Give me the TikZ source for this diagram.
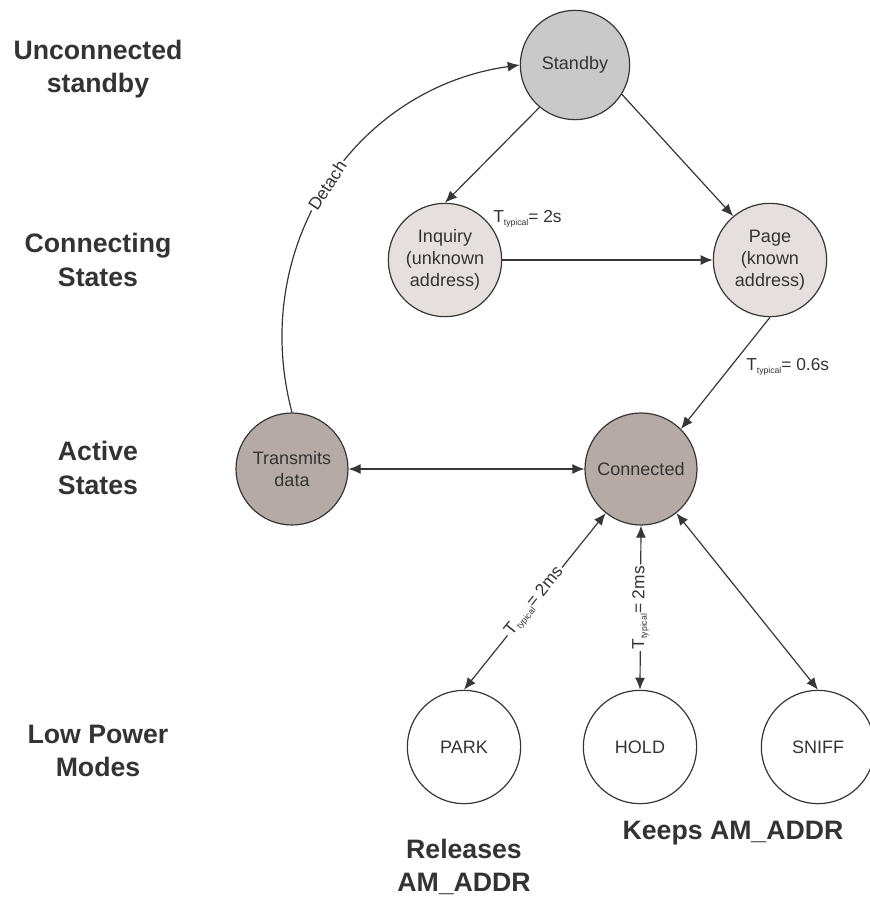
\documentclass[tikz,border=0pt]{standalone}
\usepackage{fontspec}
\setmainfont{Liberation Sans}
\usetikzlibrary{arrows.meta}
\definecolor{ln}{HTML}{363636}
\definecolor{txt}{HTML}{333333}
\definecolor{fstand}{HTML}{C9C9C9}
\definecolor{fconn}{HTML}{E5E0DD}
\definecolor{factive}{HTML}{B5AAA6}
\newcommand{\Ttyp}{T\raisebox{-0.3ex}{\fontsize{6.5}{7}\selectfont typical}}
\begin{document}
\begin{tikzpicture}[x=0.75pt,y=-0.75pt,
  state/.style={circle, draw=ln, line width=0.9pt, minimum size=84pt, inner sep=0pt,
    align=center, text=txt, font=\fontsize{13.5}{16.5}\selectfont},
  lvl/.style={align=center, text=txt, font=\fontsize{20}{25}\selectfont\bfseries},
  conn/.style={draw=ln, line width=0.9pt, -{Latex[length=9pt,width=7.5pt]}},
  both/.style={draw=ln, line width=0.9pt, {Latex[length=9pt,width=7.5pt]}-{Latex[length=9pt,width=7.5pt]}},
  tlab/.style={text=txt, font=\fontsize{13}{15}\selectfont, inner sep=1.5pt}
]
\useasboundingbox (0,0) rectangle (870,897);

% states
\node[state, fill=fstand, minimum size=82pt] (s) at (575,65) {Standby};
\node[state, fill=fconn, minimum size=85pt] (inq) at (445,260) {Inquiry\\(unknown\\address)};
\node[state, fill=fconn, minimum size=85pt] (pg) at (770,260) {Page\\(known\\address)};
\node[state, fill=factive] (t) at (292,469) {Transmits\\data};
\node[state, fill=factive] (con) at (641,469) {Connected};
\node[state, fill=white, minimum size=85pt] (park) at (464,747) {PARK};
\node[state, fill=white, minimum size=85pt] (hold) at (640,747) {HOLD};
\node[state, fill=white, minimum size=85pt] (sniff) at (818,747) {SNIFF};

% level labels
\node[lvl] (l1) at (98,69) {Unconnected\\standby};
\node[lvl] (l2) at (98,260) {Connecting\\States};
\node[lvl] (l3) at (98,468) {Active\\States};
\node[lvl] (l4) at (98,751) {Low Power\\Modes};
\node[lvl] (rel) at (464,867) {Releases\\AM\_ADDR};
\node[lvl] (keep) at (733,833) {Keeps AM\_ADDR};

% connectors
\draw[conn] (s.230) -- (inq.north);
\draw[conn] (s.-32) -- (pg.130);
\draw[conn] (inq) -- (pg);
\draw[conn] (pg.south) -- (con.45);
\draw[both] (t) -- (con);
\draw[conn] (t.north) .. controls (248,247) and (354,88) ..
  node[sloped, fill=white, tlab, pos=0.5] {Detach} (s.west);
\draw[both] (park.north) -- node[sloped, fill=white, tlab, pos=0.5] {\Ttyp= 2ms} (con);
\draw[both] (hold.north) -- node[sloped, fill=white, tlab, pos=0.5] {\Ttyp= 2ms} (con.south);
\draw[both] (sniff.north) -- (con);

% timing labels
\node[tlab, anchor=west] (t1) at (491,219) {\Ttyp= 2s};
\node[tlab, anchor=west] (t2) at (744,367) {\Ttyp= 0.6s};
\end{tikzpicture}
\end{document}
